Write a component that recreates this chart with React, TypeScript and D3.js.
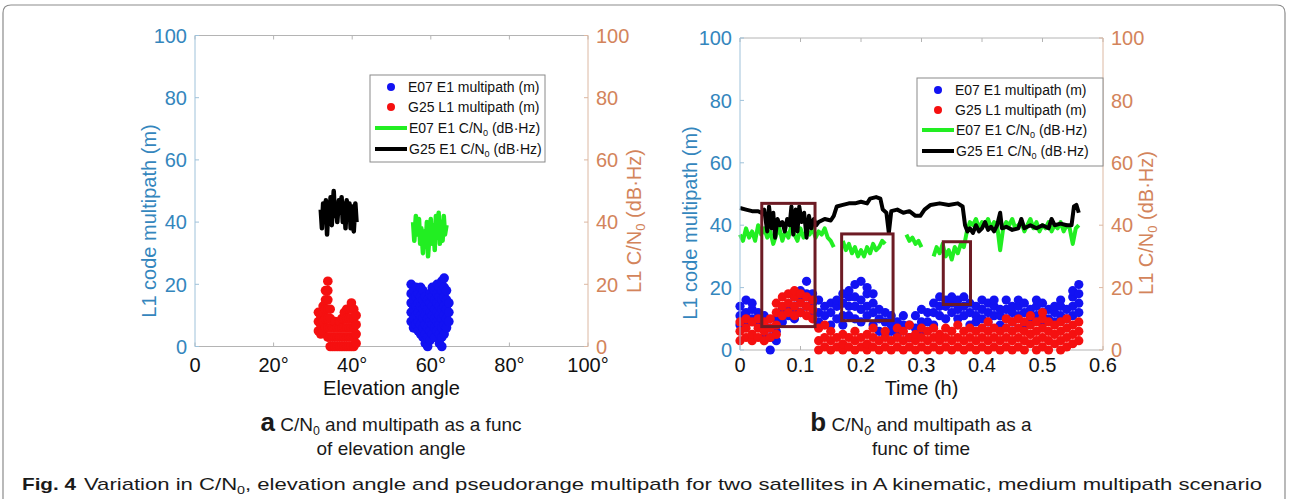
import React from 'react';
import * as d3 from 'd3';

// ---- data ----
const yTicks = [0, 20, 40, 60, 80, 100];
const elevationTicks = [0, 20, 40, 60, 80, 100];
const timeTicks = [0, 0.1, 0.2, 0.3, 0.4, 0.5, 0.6];

// panel a multipath: [elevation deg, values at that elevation]
const elevE07Multipath: [number, number[]][] = [
  [55.0, [8, 11, 14, 17, 20]], [55.6, [6, 9, 12, 15, 18]], [56.2, [7, 10, 13, 16, 19]], [56.8, [5, 8, 11, 14, 17]],
  [57.4, [4, 7, 10, 13, 16, 19]], [58.0, [3, 6, 9, 12, 15, 18]], [58.6, [1, 4, 7, 10, 13, 16]], [59.2, [0, 3, 6, 9, 12, 15]],
  [59.8, [2, 5, 8, 11, 14, 17]], [60.4, [4, 7, 10, 13, 16, 19]], [61.0, [3, 6, 9, 12, 15, 18]], [61.6, [5, 8, 11, 14, 17, 20]],
  [62.2, [1, 4, 7, 10, 13, 16, 19]], [62.8, [0, 3, 6, 9, 12, 15, 18, 21]], [63.4, [4, 7, 10, 13, 16, 19, 22]],
  [64.0, [6, 9, 12, 15, 18]], [64.6, [8, 11, 14]],
];
const elevG25Multipath: [number, number[]][] = [
  [31.4, [5, 8, 11]], [32.0, [4, 7, 10]], [32.6, [5, 8, 11, 13]], [33.2, [6, 9, 12, 15, 18]],
  [33.8, [3, 6, 9, 12, 15, 18, 21]], [34.4, [0, 3, 6, 9, 12]], [35.0, [0, 3, 6]], [35.6, [0, 3, 6, 8]],
  [36.2, [0, 3, 6]], [36.8, [0, 3, 6, 8]], [37.4, [0, 3, 6, 9]], [38.0, [0, 3, 6, 9, 11]],
  [38.6, [0, 3, 6, 9, 12]], [39.2, [0, 3, 6, 9, 12]], [39.8, [0, 3, 6, 9, 12, 14]], [40.4, [0, 3, 6, 9, 12]],
  [41.0, [1, 4, 7, 10]],
];
// panel a C/N0: [elevation deg, dB-Hz]
const elevE07Cn0: [number, number][] = [
  [55.5, 40], [55.8, 34], [56.2, 42], [56.6, 36], [57, 41], [57.3, 33], [57.6, 38], [58, 30], [58.3, 37], [58.7, 32],
  [59, 40], [59.3, 29], [59.6, 35], [60, 41], [60.3, 33], [60.7, 39], [61, 31], [61.3, 42], [61.7, 35], [62, 43],
  [62.3, 33], [62.7, 40], [63, 34], [63.3, 42], [63.6, 36], [64, 39],
];
const elevG25Cn0: [number, number][] = [
  [32, 44], [32.3, 38], [32.6, 46], [33, 40], [33.3, 47], [33.6, 36], [33.9, 44], [34.2, 41], [34.5, 48], [34.8, 39],
  [35.3, 50], [35.6, 42], [36, 45], [36.2, 40], [36.6, 47], [37, 43], [37.3, 48], [37.6, 40], [38, 46], [38.3, 38],
  [38.6, 47], [39, 41], [39.3, 46], [39.6, 38], [40, 45], [40.4, 37], [40.8, 46], [41.1, 40],
];

// panel b multipath: [time h, values at that time]
const timeE07Multipath: [number, number[]][] = [
  [0.00, [8, 11, 14]], [0.01, [9, 12, 16]], [0.02, [10, 13, 15]], [0.03, [8, 12]], [0.04, [4, 8, 11]],
  [0.05, [0, 4, 7]], [0.06, [3, 6, 10]], [0.07, [9, 13]], [0.08, [11, 14]], [0.09, [10, 13, 17]],
  [0.10, [12, 16, 19]], [0.11, [14, 18, 22]], [0.12, [11, 15, 18]], [0.13, [9, 12, 16]], [0.14, [11, 14]],
  [0.15, [8, 12, 15]], [0.16, [10, 14, 16]], [0.17, [8, 11, 15, 18]], [0.18, [11, 14, 17, 19]], [0.19, [10, 14, 17, 21]],
  [0.20, [9, 13, 16, 22]], [0.21, [11, 14, 18, 20]], [0.22, [8, 12, 15, 18]], [0.23, [6, 10, 13]], [0.24, [5, 9, 12]],
  [0.25, [6, 8, 11]], [0.26, [5, 9]], [0.27, [8, 11]], [0.28, [4, 8]], [0.29, [7, 11]],
  [0.30, [6, 9, 13]], [0.31, [9, 12]], [0.32, [8, 12, 15]], [0.33, [11, 14, 17]], [0.34, [10, 14, 16]],
  [0.35, [12, 15, 17]], [0.36, [10, 13, 16]], [0.37, [11, 14, 17]], [0.38, [8, 12, 15]], [0.39, [9, 11, 14]],
  [0.40, [10, 13, 16]], [0.41, [9, 12, 15]], [0.42, [11, 14, 16]], [0.43, [8, 11, 13]], [0.44, [10, 13, 16]],
  [0.45, [9, 12, 14]], [0.46, [11, 14, 16]], [0.47, [8, 12, 15]], [0.48, [10, 13]], [0.49, [11, 14, 16]],
  [0.50, [9, 12, 15]], [0.51, [10, 13]], [0.52, [9, 12, 14]], [0.53, [11, 14, 16]], [0.54, [10, 13]],
  [0.55, [11, 14, 17, 19]], [0.56, [12, 15, 18, 21]],
];
const timeG25Multipath: [number, number[]][] = [
  [0.00, [3, 6, 9]], [0.01, [4, 7, 10]], [0.02, [3, 5, 9]], [0.03, [4, 7, 10]], [0.04, [3, 6, 9]],
  [0.05, [4, 7, 10]], [0.06, [5, 8, 12, 15]], [0.07, [11, 14, 17]], [0.08, [12, 15, 18]], [0.09, [11, 14, 17, 19]],
  [0.10, [12, 15, 18]], [0.11, [11, 14, 17]], [0.12, [10, 13, 16]], [0.13, [0, 3, 7]], [0.14, [1, 4, 8]],
  [0.15, [0, 3, 6]], [0.16, [1, 4]], [0.17, [0, 2, 5]], [0.18, [1, 4]], [0.19, [0, 3, 6]],
  [0.20, [1, 4]], [0.21, [0, 2, 5]], [0.22, [1, 4, 7]], [0.23, [0, 3]], [0.24, [1, 4, 6]],
  [0.25, [0, 3]], [0.26, [1, 4, 7]], [0.27, [0, 3, 6]], [0.28, [1, 4, 8]], [0.29, [0, 3, 5]],
  [0.30, [1, 4, 7]], [0.31, [0, 3, 6]], [0.32, [1, 4, 7]], [0.33, [0, 3, 5]], [0.34, [1, 4, 7]],
  [0.35, [0, 3, 6]], [0.36, [1, 4, 8]], [0.37, [0, 3, 6]], [0.38, [1, 4, 7]], [0.39, [0, 3, 6]],
  [0.40, [1, 4, 7]], [0.41, [0, 3, 6, 9]], [0.42, [1, 4, 7]], [0.43, [0, 3, 6]], [0.44, [1, 4, 7, 10]],
  [0.45, [0, 3, 6, 9]], [0.46, [1, 4, 7, 10]], [0.47, [0, 3, 6, 9]], [0.48, [2, 5, 8, 11]], [0.49, [0, 3, 6, 9]],
  [0.50, [1, 4, 7, 10, 12]], [0.51, [0, 3, 6, 9]], [0.52, [2, 5, 8]], [0.53, [0, 3, 6, 9]], [0.54, [1, 4, 7, 10]],
  [0.55, [2, 5, 8]], [0.56, [3, 6, 9]],
];
// panel b C/N0: [time h, dB-Hz]
const timeG25Cn0: [number, number][] = [
  [0, 45.5], [0.01, 45], [0.02, 44.5], [0.03, 44.5], [0.035, 44], [0.04, 45], [0.045, 38], [0.048, 46], [0.052, 39],
  [0.055, 44], [0.058, 36], [0.062, 42], [0.066, 40], [0.07, 41], [0.074, 38], [0.078, 42], [0.082, 40], [0.085, 46],
  [0.088, 37], [0.092, 45], [0.095, 38], [0.098, 46], [0.102, 41], [0.106, 44], [0.11, 36], [0.114, 43], [0.118, 39],
  [0.122, 42], [0.126, 40], [0.13, 41], [0.14, 42], [0.15, 41.5], [0.155, 43], [0.16, 46], [0.17, 46.5], [0.18, 47],
  [0.19, 47], [0.2, 47.5], [0.21, 47], [0.215, 48.5], [0.225, 49], [0.232, 48.5], [0.236, 45], [0.242, 44],
  [0.246, 37.5], [0.25, 44.5], [0.26, 45], [0.27, 44], [0.28, 44.5], [0.29, 43], [0.298, 43], [0.305, 45],
  [0.315, 46.5], [0.33, 47], [0.345, 46.5], [0.36, 47], [0.368, 46], [0.372, 40], [0.376, 38], [0.38, 39],
  [0.385, 37.5], [0.39, 40], [0.395, 38], [0.4, 39], [0.405, 41], [0.41, 38.5], [0.415, 39.5], [0.42, 38],
  [0.425, 40], [0.43, 44], [0.433, 39], [0.44, 39.5], [0.45, 38.5], [0.46, 39], [0.465, 42], [0.47, 39],
  [0.48, 40], [0.49, 39], [0.5, 40], [0.51, 39], [0.515, 42], [0.52, 40], [0.53, 40.5], [0.54, 40], [0.548, 40],
  [0.552, 46], [0.556, 46.5], [0.56, 44],
];
const timeE07Cn0: [number, number | null][] = [
  [0, 37], [0.005, 35], [0.01, 39], [0.015, 36], [0.02, 38], [0.025, 35], [0.03, 40], [0.035, 37], [0.04, 39],
  [0.045, 36], [0.05, 38], [0.055, 34], [0.06, 37], [0.065, 39], [0.07, 35], [0.075, 38], [0.08, 36], [0.085, 40],
  [0.09, 37], [0.095, 35], [0.1, 39], [0.105, 36], [0.11, 38], [0.115, 37], [0.12, 39], [0.125, 36], [0.13, 38],
  [0.135, 37], [0.14, 39], [0.145, 36], [0.15, 35], [0.155, 33], [0.16, null],
  [0.17, 35], [0.175, 32], [0.18, 34], [0.185, 31], [0.19, 33], [0.195, 30], [0.2, 32], [0.205, 30], [0.21, 33],
  [0.215, 31], [0.22, 34], [0.225, 32], [0.23, 33], [0.235, 35], [0.24, 34], [0.25, null],
  [0.275, 37], [0.28, 35], [0.285, 36], [0.29, 34], [0.295, 35], [0.3, 33], [0.31, null],
  [0.32, 30], [0.325, 33], [0.33, 31], [0.335, 34], [0.34, 30], [0.345, 32], [0.35, 29], [0.355, 33], [0.36, 31],
  [0.365, 34], [0.37, 33], [0.375, 38], [0.38, 41], [0.385, 40], [0.39, 42], [0.395, 39], [0.4, 41], [0.405, 40],
  [0.41, 42], [0.415, 39], [0.42, 41], [0.425, 40], [0.43, 32], [0.435, 39], [0.44, 41], [0.445, 40], [0.45, 42],
  [0.455, 39], [0.46, 40], [0.465, 41], [0.47, 38], [0.475, 40], [0.48, 42], [0.485, 39], [0.49, 41], [0.495, 38],
  [0.5, 40], [0.505, 39], [0.51, 41], [0.515, 38], [0.52, 40], [0.525, 39], [0.53, 41], [0.535, 38], [0.54, 40],
  [0.545, 39], [0.55, 34], [0.555, 39], [0.56, 40],
];
// highlighted windows on panel b: [t0, t1, low, high]
const highlightWindows: [number, number, number, number][] = [
  [0.036, 0.124, 7.5, 47],
  [0.168, 0.253, 9.4, 37.2],
  [0.336, 0.381, 14.6, 34.7],
];

// ---- styles ----
const FONT = "'Liberation Sans', Arial, sans-serif";
const BLUE_TXT = '#3486bd';
const BLUE_AX = '#9fc2da';
const ORANGE_TXT = '#d3845b';
const ORANGE_AX = '#dcb8a2';
const BOX_GRAY = '#b4b4b4';
const C_BLUE = '#1212f2';
const C_RED = '#f51010';
const C_GREEN = '#22ee22';
const C_BLACK = '#000000';

const Cn0 = ({ size }: { size: number }) => (
  <>C/N<tspan fontSize={size * 0.65} dy={size * 0.2}>0</tspan><tspan dy={-size * 0.2}>{' '}</tspan></>
);

function Frame({ x, y, xTicks, fmt, xLabel, leftLabelX, rightLabelX, labelCY, children }: any) {
  const [x0, x1] = x.range();
  const [yb, yt] = y.range();
  return (
    <g fontFamily={FONT}>
      <line x1={x0} x2={x1} y1={yt} y2={yt} stroke={BOX_GRAY} />
      <line x1={x0} x2={x1} y1={yb} y2={yb} stroke={BOX_GRAY} />
      {xTicks.map((t: number) => (
        <g key={t}>
          <line x1={x(t)} x2={x(t)} y1={yb} y2={yb - 4} stroke={BOX_GRAY} />
          <line x1={x(t)} x2={x(t)} y1={yt} y2={yt + 4} stroke={BOX_GRAY} />
          <text x={x(t)} y={372} textAnchor="middle" fontSize={20} fill="#111">{fmt(t)}</text>
        </g>
      ))}
      {children}
      <line x1={x0} x2={x0} y1={yb} y2={yt} stroke={BLUE_AX} />
      <line x1={x1} x2={x1} y1={yb} y2={yt} stroke={ORANGE_AX} />
      {yTicks.map((t) => (
        <g key={t}>
          <line x1={x0} x2={x0 + 4} y1={y(t)} y2={y(t)} stroke={BLUE_AX} />
          <line x1={x1} x2={x1 - 4} y1={y(t)} y2={y(t)} stroke={ORANGE_AX} />
          <text x={x0 - 8} y={y(t)} dy="0.36em" textAnchor="end" fontSize={20} fill={BLUE_TXT}>{t}</text>
          <text x={x1 + 8} y={y(t)} dy="0.36em" textAnchor="start" fontSize={20} fill={ORANGE_TXT}>{t}</text>
        </g>
      ))}
      <text x={(x0 + x1) / 2} y={395} textAnchor="middle" fontSize={20} fill="#111">{xLabel}</text>
      <text transform={`translate(${leftLabelX},${labelCY}) rotate(-90)`} textAnchor="middle" fontSize={20} fill={BLUE_TXT}>
        L1 code multipath (m)
      </text>
      <text transform={`translate(${rightLabelX},${labelCY}) rotate(-90)`} textAnchor="middle" fontSize={20} fill={ORANGE_TXT}>
        L1 <Cn0 size={20} />(dB·Hz)
      </text>
    </g>
  );
}

function Legend({ x, y, w, h, rowY }: { x: number; y: number; w: number; h: number; rowY: number[] }) {
  const items = [
    { kind: 'dot', color: C_BLUE, label: 'E07 E1 multipath (m)' },
    { kind: 'dot', color: C_RED, label: 'G25 L1 multipath (m)' },
    { kind: 'line', color: C_GREEN, label: 'E07 E1' },
    { kind: 'line', color: C_BLACK, label: 'G25 E1' },
  ];
  return (
    <g fontFamily={FONT} fontSize={14}>
      <rect x={x} y={y} width={w} height={h} fill="#fff" stroke="#8a8a8a" />
      {items.map((d, i) => (
        <g key={i}>
          {d.kind === 'dot'
            ? <circle cx={x + 21} cy={y + rowY[i]} r={4} fill={d.color} />
            : <line x1={x + 5} x2={x + 37} y1={y + rowY[i]} y2={y + rowY[i]} stroke={d.color} strokeWidth={4} />}
          <text x={x + (d.kind === 'dot' ? 38 : 39)} y={y + rowY[i]} dy="0.36em" fill="#111">
            {d.kind === 'dot' ? d.label : <>{d.label} <Cn0 size={14} />(dB·Hz)</>}
          </text>
        </g>
      ))}
    </g>
  );
}

const flat = (cols: [number, number[]][]) => cols.flatMap(([t, vs]) => vs.map((v) => [t, v] as [number, number]));

export default function App() {
  // panel a scales
  const xa = d3.scaleLinear().domain([0, 100]).range([195, 588]);
  const ya = d3.scaleLinear().domain([0, 100]).range([346.5, 35.5]);
  // panel b scales
  const xb = d3.scaleLinear().domain([0, 0.6]).range([740, 1103]);
  const yb = d3.scaleLinear().domain([0, 100]).range([350, 38]);

  const lineA = d3.line<[number, number]>().x((d) => xa(d[0])).y((d) => ya(d[1]));
  const lineB = d3.line<[number, number | null]>()
    .defined((d) => d[1] != null)
    .x((d) => xb(d[0])).y((d) => yb(d[1] as number));

  return (
    <svg width={1290} height={499} style={{ position: 'absolute', left: 0, top: 0, background: '#fff' }}>
      <rect width={1290} height={499} fill="#fff" />
      <path d="M3,499 V13 Q3,5 11,5 H1277 Q1285,5 1285,13 V499" fill="none" stroke="#8c8c8c" strokeWidth={1.2} />

      {/* panel a */}
      <Frame x={xa} y={ya} xTicks={elevationTicks} fmt={(t: number) => (t === 0 ? '0' : `${t}°`)}
        xLabel="Elevation angle" leftLabelX={155.5} rightLabelX={641} labelCY={221}>
        {flat(elevE07Multipath).map((d, i) => <circle key={'ab' + i} cx={xa(d[0])} cy={ya(d[1])} r={4.8} fill={C_BLUE} />)}
        {flat(elevG25Multipath).map((d, i) => <circle key={'ar' + i} cx={xa(d[0])} cy={ya(d[1])} r={4.8} fill={C_RED} />)}
        <path d={lineA(elevE07Cn0) || ''} fill="none" stroke={C_GREEN} strokeWidth={4.5} strokeLinejoin="round" />
        <path d={lineA(elevG25Cn0) || ''} fill="none" stroke={C_BLACK} strokeWidth={4.5} strokeLinejoin="round" />
      </Frame>
      <Legend x={370} y={75} w={175} h={87} rowY={[12, 32, 53, 74]} />

      {/* panel b */}
      <Frame x={xb} y={yb} xTicks={timeTicks} fmt={(t: number) => (t === 0 ? '0' : d3.format('.1f')(t))}
        xLabel="Time (h)" leftLabelX={697} rightLabelX={1153} labelCY={223}>
        {flat(timeE07Multipath).map((d, i) => <circle key={'bb' + i} cx={xb(d[0])} cy={yb(d[1])} r={4.6} fill={C_BLUE} />)}
        {flat(timeG25Multipath).map((d, i) => <circle key={'br' + i} cx={xb(d[0])} cy={yb(d[1])} r={4.6} fill={C_RED} />)}
        <path d={lineB(timeE07Cn0) || ''} fill="none" stroke={C_GREEN} strokeWidth={4} strokeLinejoin="round" />
        <path d={lineB(timeG25Cn0) || ''} fill="none" stroke={C_BLACK} strokeWidth={4} strokeLinejoin="round" />
        {highlightWindows.map((w, i) => (
          <rect key={i} x={xb(w[0])} y={yb(w[3])} width={xb(w[1]) - xb(w[0])} height={yb(w[2]) - yb(w[3])}
            fill="none" stroke="#6d1b24" strokeWidth={3} />
        ))}
      </Frame>
      <Legend x={917} y={78} w={186} h={88} rowY={[12, 32, 52, 73]} />

      {/* sub-captions */}
      <g fontFamily={FONT} fill="#1a1a1a" textAnchor="middle">
        <text x={391} y={431} fontSize={19}>
          <tspan fontWeight="bold" fontSize={26}>a</tspan> <Cn0 size={19} />and multipath as a func
        </text>
        <text x={391} y={455} fontSize={19}>of elevation angle</text>
        <text x={921} y={431} fontSize={19}>
          <tspan fontWeight="bold" fontSize={26}>b</tspan> <Cn0 size={19} />and multipath as a
        </text>
        <text x={921} y={455} fontSize={19}>func of time</text>
      </g>
      <g fontFamily={FONT} fill="#1a1a1a" fontSize={17}>
        <text x={22} y={490} fontWeight="bold" textLength={54} lengthAdjust="spacingAndGlyphs">Fig. 4</text>
        <text x={84} y={490} textLength={1178} lengthAdjust="spacingAndGlyphs">
          Variation in C/N<tspan fontSize={11} dy={4}>0</tspan><tspan dy={-4}>, elevation angle and pseudorange multipath for two satellites in A kinematic, medium multipath scenario</tspan>
        </text>
      </g>
    </svg>
  );
}
